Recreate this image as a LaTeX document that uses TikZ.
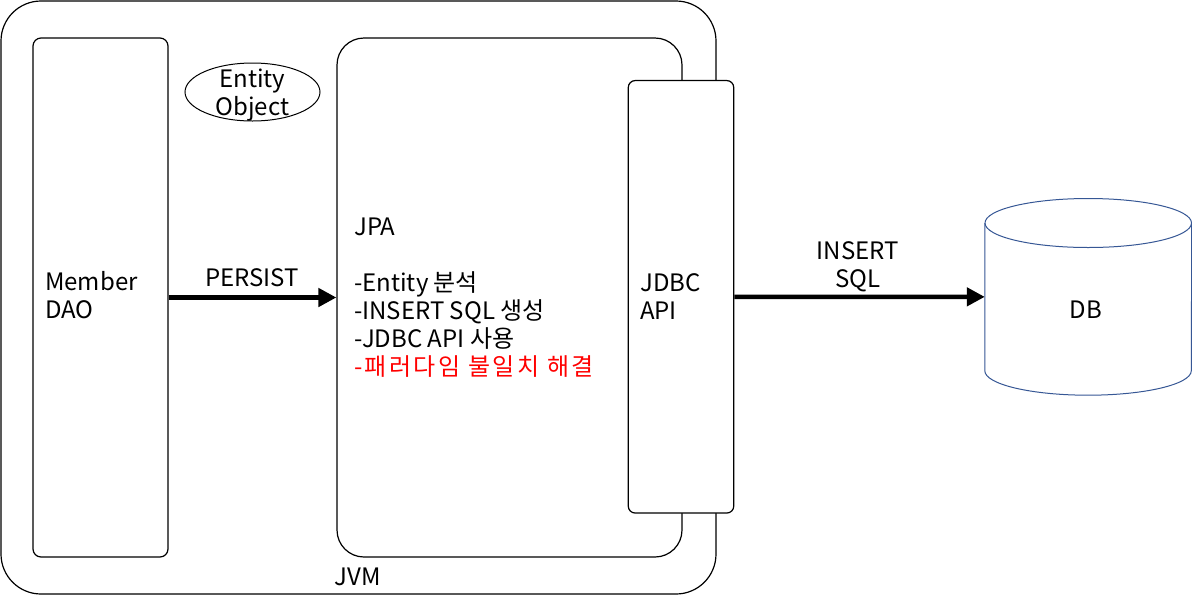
\documentclass[tikz,border=0pt]{standalone}
\usepackage{fontspec}
\setmainfont{Noto Sans CJK KR}
\usetikzlibrary{arrows.meta,shapes.geometric}
\definecolor{dbblue}{RGB}{54,87,149}
\begin{document}
\begin{tikzpicture}[x=1pt,y=-1pt,
  box/.style={draw=black,line width=1.2pt,fill=white,inner sep=0pt},
  lbl/.style={inner sep=0pt,anchor=base west,align=left,font=\fontsize{24pt}{28pt}\selectfont},
  clbl/.style={inner sep=0pt,anchor=base,align=center,font=\fontsize{24pt}{28pt}\selectfont},
  flow/.style={line width=4.5pt,-{Triangle[length=18pt,width=18pt]}}]
\useasboundingbox (0,0) rectangle (1192,606);
% JVM outer box
\node[box,rounded corners=40pt,minimum width=715pt,minimum height=593pt] (jvm) at (358.5,297.5) {};
% Member DAO
\node[box,rounded corners=8pt,minimum width=135pt,minimum height=519pt] (dao) at (100.5,297.5) {};
% JPA
\node[box,rounded corners=27pt,minimum width=345pt,minimum height=519pt] (jpa) at (509.5,297.5) {};
% JDBC API
\node[box,rounded corners=7pt,minimum width=105.5pt,minimum height=432.5pt] (jdbc) at (681,296.8) {};
% Entity object
\node[draw=black,line width=1pt,ellipse,minimum width=135pt,minimum height=58pt,inner sep=0pt] (ent) at (252.5,92) {};
% DB cylinder
\node[inner sep=0pt,minimum width=206.5pt,minimum height=196.3pt] (db) at (1088.25,296.85) {};
\draw[dbblue,line width=1pt,fill=white] ([yshift=-24.5pt]db.north west)
  -- ([yshift=24.5pt]db.south west) arc (180:360:103.25pt and 24.5pt) -- ([yshift=-24.5pt]db.north east);
\draw[dbblue,line width=1pt] ([yshift=-24.5pt]db.north) ellipse (103.25pt and 24.5pt);
% texts (base anchor = baseline of last line)
\node[lbl] (tdao) at (45,318.5) {Member\\DAO};
\node[lbl] (tjpa) at (354,375) {JPA\\ \\-Entity 분석\\-INSERT SQL 생성\\-JDBC API 사용\\{\addfontfeatures{LetterSpace=10}\textcolor{red}{-패러다임 불일치 해결}}};
\node[lbl] (tjdbc) at (640,319) {JDBC\\API};
\node[clbl] (tent) at (252.5,115) {Entity\\Object};
\node[clbl] (tdb) at (1086,318.5) {DB};
\node[clbl] (tjvm) at (357.5,585) {JVM};
\node[clbl] (tpersist) at (252,286) {PERSIST};
\node[clbl] (tsql) at (857.7,287) {INSERT\\SQL};
% connectors
\draw[flow] (dao.east) -- (jpa.west);
\draw[flow] (jdbc.east) -- (db.west);
\end{tikzpicture}
\end{document}
